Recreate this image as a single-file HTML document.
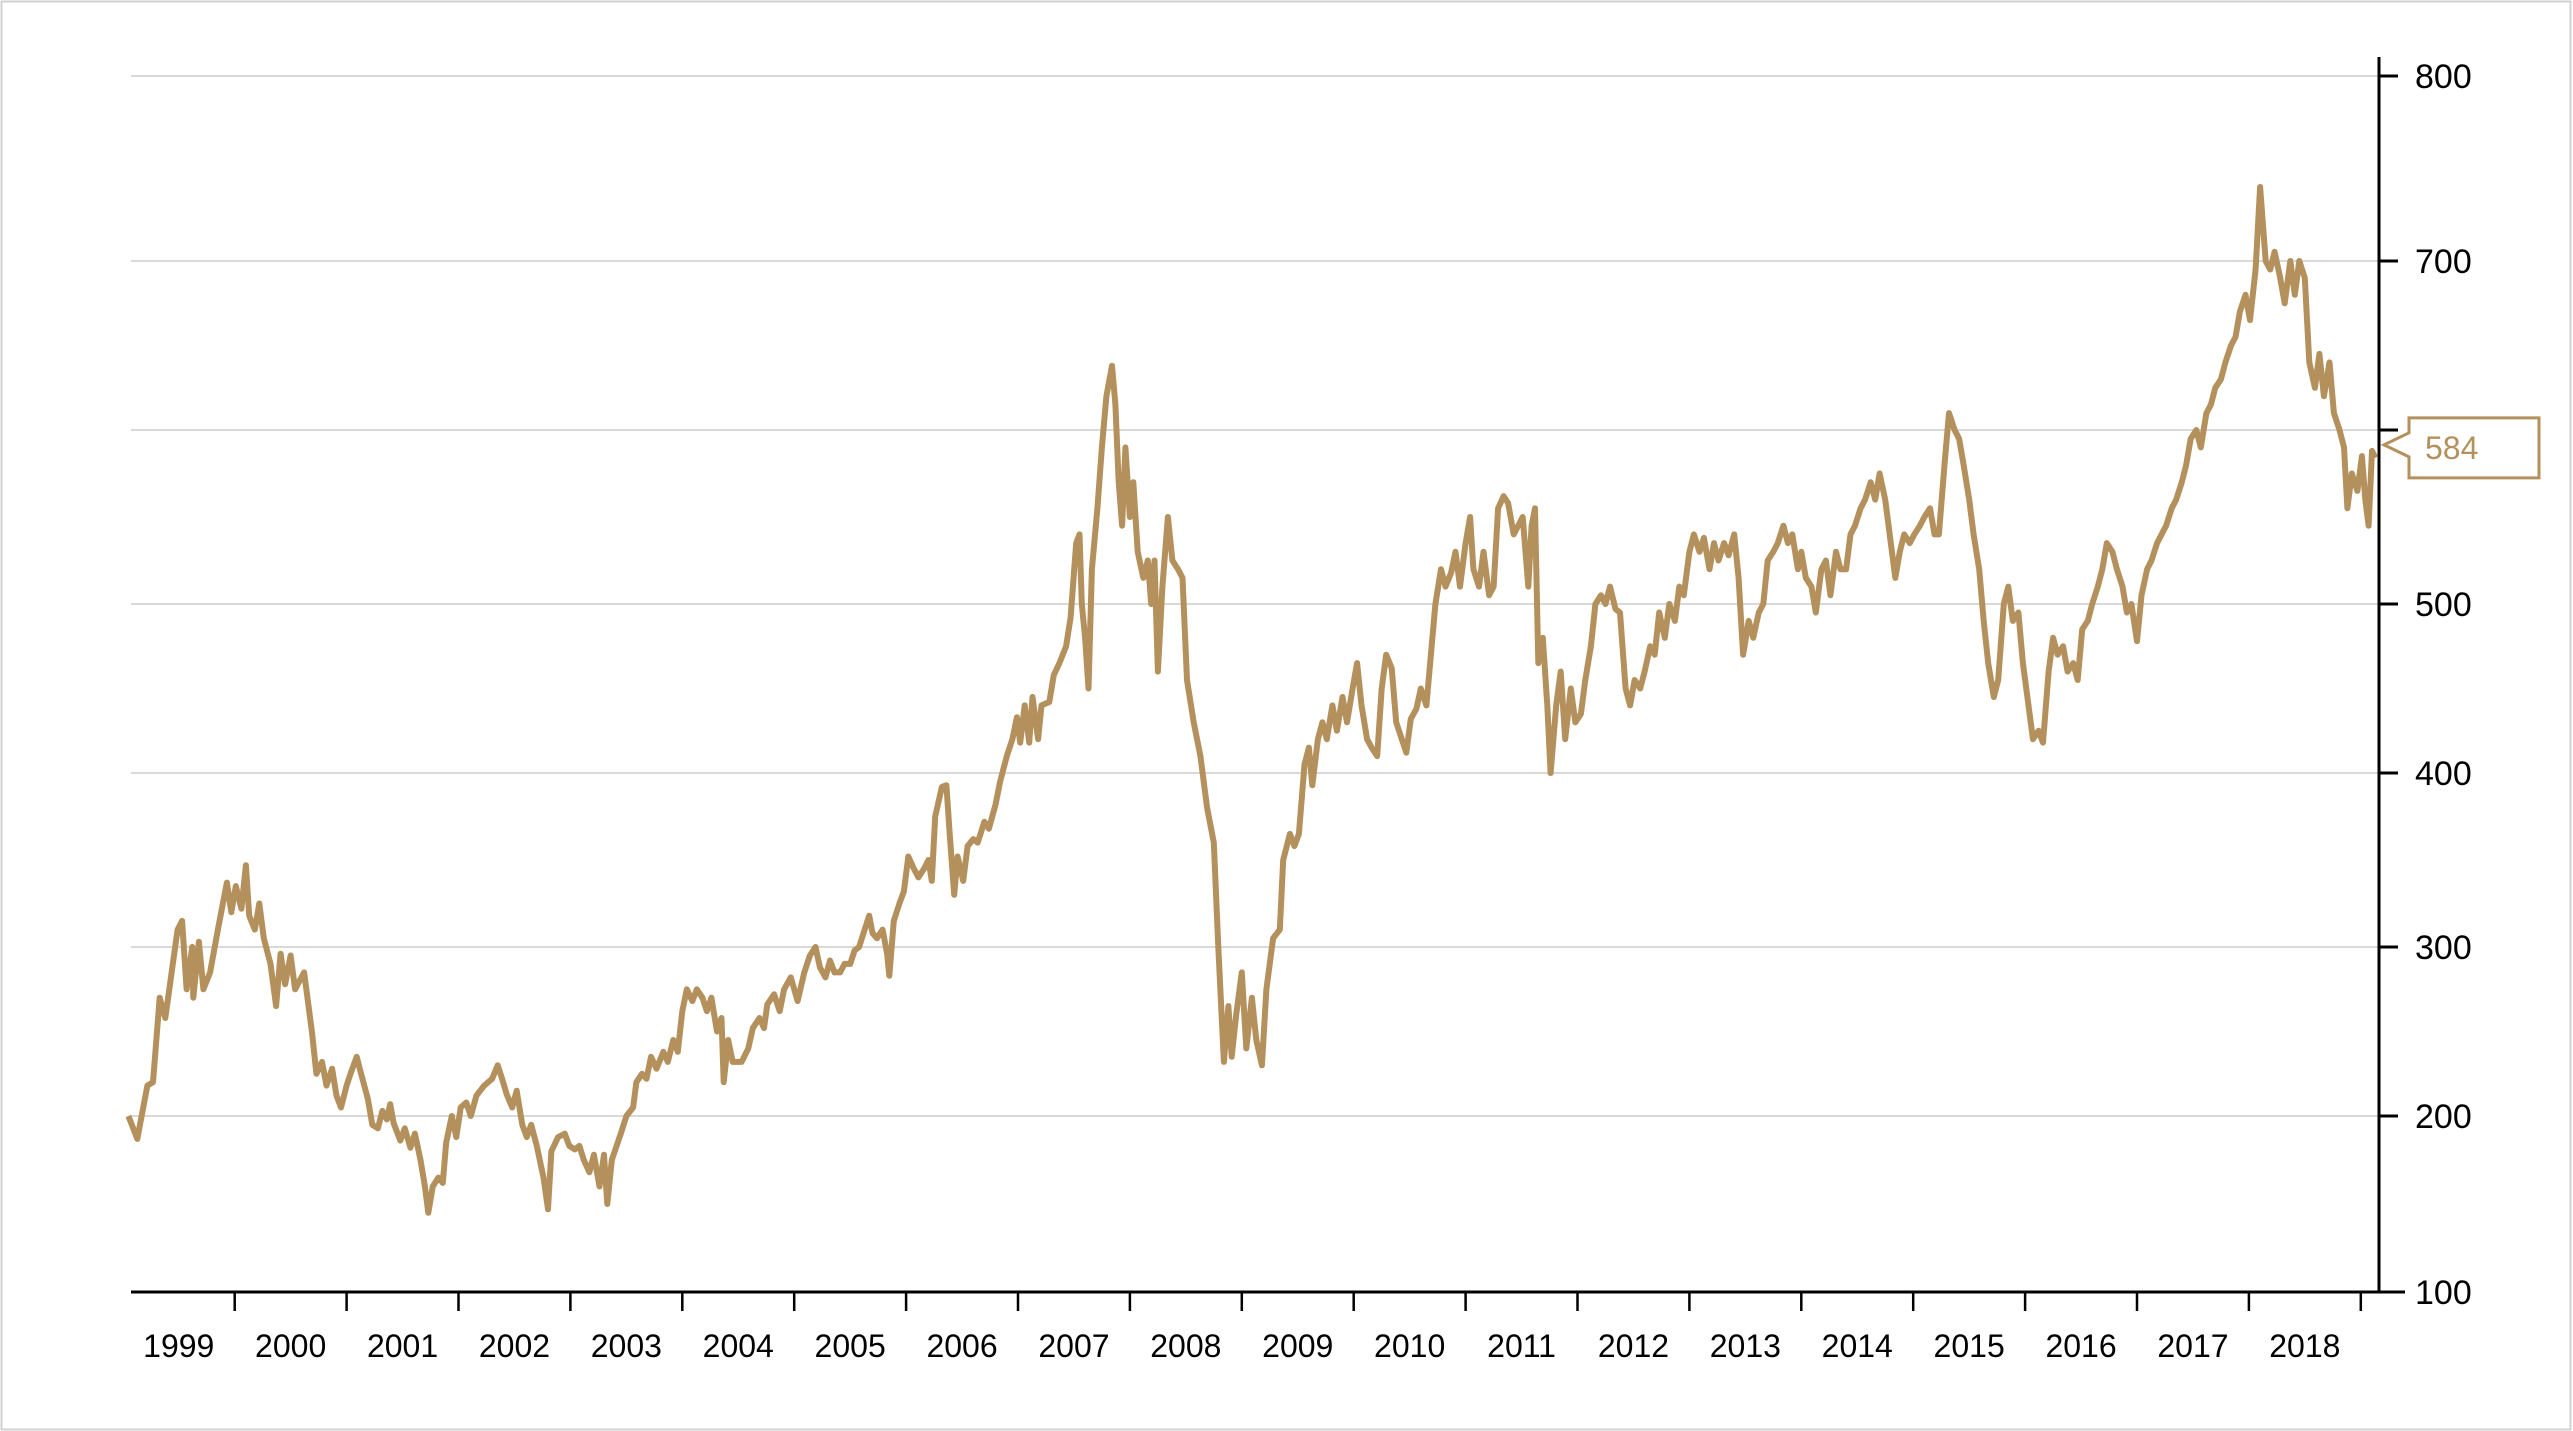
<!DOCTYPE html>
<html><head><meta charset="utf-8"><style>
html,body{margin:0;padding:0;background:#fff;}
svg{display:block;}
text{font-family:"Liberation Sans",Arial,sans-serif;}
</style></head><body>
<svg id="chart" width="2573" height="1431" viewBox="0 0 2573 1431">
<rect x="1.5" y="1.5" width="2569" height="1428" fill="#fff" stroke="#d0d0d0" stroke-width="2"/>
<g id="grid"></g>
<g id="axes"></g>
<g id="series"></g>
<g id="labelbox"></g>
</svg>
<script>
const yTickValues=[100,200,300,400,500,600,700,800];
const xYearLabels=[1999,2000,2001,2002,2003,2004,2005,2006,2007,2008,2009,2010,2011,2012,2013,2014,2015,2016,2017,2018];
const lastValue=584;
const dates=[1999.05,1999.13,1999.22,1999.27,1999.33,1999.38,1999.49,1999.53,1999.57,1999.62,1999.63,1999.68,1999.72,1999.78,1999.85,1999.93,1999.97,2000.01,2000.06,2000.10,2000.13,2000.18,2000.22,2000.26,2000.32,2000.37,2000.41,2000.45,2000.50,2000.54,2000.62,2000.69,2000.73,2000.78,2000.82,2000.87,2000.91,2000.95,2001.00,2001.04,2001.09,2001.13,2001.19,2001.23,2001.28,2001.32,2001.36,2001.39,2001.42,2001.48,2001.52,2001.57,2001.61,2001.66,2001.70,2001.73,2001.77,2001.82,2001.86,2001.89,2001.94,2001.98,2002.02,2002.07,2002.11,2002.16,2002.23,2002.30,2002.35,2002.39,2002.43,2002.48,2002.52,2002.57,2002.61,2002.65,2002.70,2002.76,2002.80,2002.83,2002.89,2002.95,2002.99,2003.04,2003.08,2003.12,2003.17,2003.21,2003.26,2003.30,2003.33,2003.37,2003.45,2003.50,2003.56,2003.59,2003.64,2003.68,2003.72,2003.77,2003.83,2003.87,2003.92,2003.96,2004.00,2004.04,2004.09,2004.13,2004.18,2004.22,2004.26,2004.31,2004.35,2004.37,2004.41,2004.45,2004.53,2004.59,2004.63,2004.69,2004.73,2004.76,2004.82,2004.87,2004.91,2004.97,2005.03,2005.09,2005.14,2005.19,2005.23,2005.28,2005.32,2005.36,2005.41,2005.45,2005.50,2005.54,2005.58,2005.63,2005.67,2005.70,2005.74,2005.79,2005.83,2005.85,2005.89,2005.94,2005.98,2006.02,2006.07,2006.11,2006.16,2006.20,2006.23,2006.26,2006.32,2006.36,2006.39,2006.43,2006.46,2006.51,2006.55,2006.60,2006.64,2006.70,2006.74,2006.80,2006.84,2006.90,2006.95,2006.99,2007.02,2007.06,2007.10,2007.13,2007.18,2007.21,2007.28,2007.32,2007.37,2007.43,2007.47,2007.52,2007.55,2007.57,2007.60,2007.63,2007.66,2007.71,2007.75,2007.79,2007.84,2007.87,2007.90,2007.93,2007.96,2008.00,2008.03,2008.07,2008.12,2008.16,2008.19,2008.22,2008.25,2008.29,2008.34,2008.38,2008.43,2008.47,2008.51,2008.57,2008.63,2008.69,2008.75,2008.79,2008.84,2008.88,2008.91,2008.95,2009.00,2009.04,2009.09,2009.13,2009.18,2009.22,2009.28,2009.34,2009.37,2009.43,2009.47,2009.51,2009.56,2009.60,2009.63,2009.68,2009.72,2009.76,2009.81,2009.85,2009.90,2009.94,2009.99,2010.03,2010.07,2010.12,2010.16,2010.21,2010.25,2010.29,2010.34,2010.38,2010.43,2010.47,2010.51,2010.56,2010.60,2010.65,2010.69,2010.73,2010.78,2010.82,2010.87,2010.91,2010.95,2011.00,2011.04,2011.07,2011.12,2011.16,2011.21,2011.25,2011.29,2011.34,2011.38,2011.43,2011.47,2011.51,2011.56,2011.59,2011.62,2011.65,2011.69,2011.73,2011.76,2011.81,2011.85,2011.89,2011.94,2011.98,2012.03,2012.07,2012.12,2012.16,2012.21,2012.25,2012.29,2012.34,2012.38,2012.43,2012.47,2012.51,2012.56,2012.60,2012.65,2012.69,2012.73,2012.78,2012.82,2012.87,2012.91,2012.95,2013.00,2013.04,2013.09,2013.13,2013.18,2013.22,2013.26,2013.31,2013.35,2013.40,2013.44,2013.48,2013.53,2013.57,2013.62,2013.66,2013.70,2013.75,2013.79,2013.84,2013.88,2013.92,2013.97,2014.00,2014.04,2014.09,2014.13,2014.18,2014.22,2014.26,2014.31,2014.35,2014.40,2014.44,2014.48,2014.53,2014.57,2014.62,2014.66,2014.70,2014.75,2014.79,2014.84,2014.88,2014.92,2014.97,2015.01,2015.06,2015.10,2015.15,2015.19,2015.23,2015.28,2015.32,2015.37,2015.41,2015.45,2015.50,2015.54,2015.59,2015.63,2015.67,2015.72,2015.76,2015.81,2015.85,2015.89,2015.94,2015.98,2016.03,2016.07,2016.12,2016.16,2016.21,2016.25,2016.29,2016.34,2016.38,2016.43,2016.47,2016.51,2016.56,2016.60,2016.65,2016.69,2016.73,2016.78,2016.82,2016.87,2016.91,2016.95,2017.00,2017.04,2017.09,2017.13,2017.18,2017.22,2017.26,2017.31,2017.35,2017.40,2017.44,2017.48,2017.53,2017.57,2017.62,2017.66,2017.70,2017.75,2017.79,2017.84,2017.88,2017.92,2017.97,2018.01,2018.06,2018.10,2018.15,2018.19,2018.23,2018.28,2018.32,2018.37,2018.41,2018.45,2018.50,2018.54,2018.59,2018.63,2018.67,2018.72,2018.76,2018.81,2018.85,2018.88,2018.92,2018.97,2019.01,2019.04,2019.07,2019.10,2019.13];
const values=[200,187,218,220,270,258,310,315,275,300,270,303,275,285,310,337,320,335,322,347,318,310,325,305,290,265,296,278,295,275,285,250,225,232,218,228,212,205,218,226,235,225,210,195,193,203,198,207,196,186,193,182,190,175,160,145,160,165,162,185,200,188,205,208,200,212,218,222,230,222,213,205,215,195,188,195,183,165,147,180,188,190,183,181,183,175,168,178,160,178,150,175,190,200,205,220,225,222,235,228,238,232,245,238,262,275,268,275,270,262,270,250,258,220,245,232,232,240,252,258,252,266,272,262,275,282,268,285,295,300,288,282,292,285,285,290,290,298,300,310,318,308,305,310,296,283,315,325,332,352,345,340,345,350,338,375,392,393,365,330,352,338,358,362,360,372,368,382,395,410,420,433,418,440,418,445,420,440,442,458,465,475,492,535,540,500,480,450,520,555,590,620,638,615,570,545,590,550,570,530,515,525,500,525,460,510,550,525,520,515,455,430,410,380,360,300,232,265,235,260,285,240,270,245,230,275,305,310,350,365,358,365,405,415,393,420,430,420,440,425,445,430,450,465,440,420,415,410,450,470,462,430,420,412,432,438,450,440,470,500,520,510,518,530,510,535,550,520,510,530,505,510,555,562,558,540,545,550,510,545,555,465,480,440,400,440,460,420,450,430,435,455,475,500,505,500,510,497,495,450,440,455,450,460,475,470,495,480,500,490,510,505,530,540,530,538,520,535,525,535,528,540,515,470,490,480,495,500,525,530,535,545,535,540,520,530,515,510,495,520,525,505,530,520,520,540,545,555,560,570,560,575,560,540,515,530,540,535,540,545,550,555,540,540,580,610,600,595,580,560,540,520,490,465,445,455,500,510,490,495,465,440,420,425,418,460,480,470,475,460,465,455,485,490,500,510,520,535,530,520,510,495,500,478,505,520,525,535,540,545,555,560,570,580,595,600,590,610,615,625,630,640,650,655,670,680,665,695,740,700,695,705,690,675,700,680,700,690,640,625,645,620,640,610,600,590,555,575,565,585,560,545,588,584];

const NS='http://www.w3.org/2000/svg';
const plotLeft=131, axisX=2379, axisY=1292;
const yCal=[1292,1116,947,773,604,430,261,76];
function yScale(v){
  const i=Math.max(0,Math.min(yTickValues.length-2,Math.floor((v-100)/100)));
  const t=(v-yTickValues[i])/(yTickValues[i+1]-yTickValues[i]);
  return yCal[i]+(yCal[i+1]-yCal[i])*t;
}
function xScale(yr){return 234.7+(yr-2000)*111.9;}
function mk(tag,attrs,parent){const e=document.createElementNS(NS,tag);for(const k in attrs)e.setAttribute(k,attrs[k]);parent.appendChild(e);return e;}

const grid=document.getElementById('grid');
const axes=document.getElementById('axes');
yTickValues.forEach(v=>{
  const y=yScale(v);
  if(v>100){
    const g=mk('line',{x1:plotLeft,x2:axisX,y1:y,y2:y,stroke:'#d9d9d9','stroke-width':2},grid);
    
    
  }
  const tk=mk('line',{x1:axisX,x2:v===100?2405:2398,y1:y,y2:y,stroke:'#000','stroke-width':3},axes);
  
  
  const tx=mk('text',{x:2415,y:y+12,'font-size':34,fill:'#000'},axes);
  tx.textContent=v;
  
  
});
const xl=mk('line',{x1:plotLeft,x2:2405,y1:axisY,y2:axisY,stroke:'#000','stroke-width':3},axes);


const yl=mk('line',{x1:axisX,x2:axisX,y1:57,y2:axisY,stroke:'#000','stroke-width':3},axes);


xYearLabels.forEach(yr=>{
  const xt=xScale(yr+1);
  const tk=mk('line',{x1:xt,x2:xt,y1:axisY,y2:axisY+19,stroke:'#000','stroke-width':2.5},axes);
  
  
  const tx=mk('text',{x:xScale(yr+0.5),y:1357,'font-size':32,fill:'#000','text-anchor':'middle'},axes);
  tx.textContent=yr;
  
  
});

const series=document.getElementById('series');
let d='';
dates.forEach((dt,i)=>{d+=(i?'L':'M')+xScale(dt).toFixed(1)+' '+yScale(values[i]).toFixed(1);});
const p=mk('path',{d:d,fill:'none',stroke:'#b4915c','stroke-width':6,'stroke-linejoin':'round'},series);



const lb=document.getElementById('labelbox');
const ly=yScale(lastValue)-13;
const box=mk('path',{d:`M2384 ${ly} L2409 ${ly-12} L2409 ${ly-27} L2539 ${ly-27} L2539 ${ly+33} L2409 ${ly+33} L2409 ${ly+12} Z`,fill:'#fff',stroke:'#b4915c','stroke-width':3},lb);


const lt=mk('text',{x:2425,y:ly+14,'font-size':32,fill:'#b4915c'},lb);
lt.textContent=lastValue;


</script>
</body></html>
